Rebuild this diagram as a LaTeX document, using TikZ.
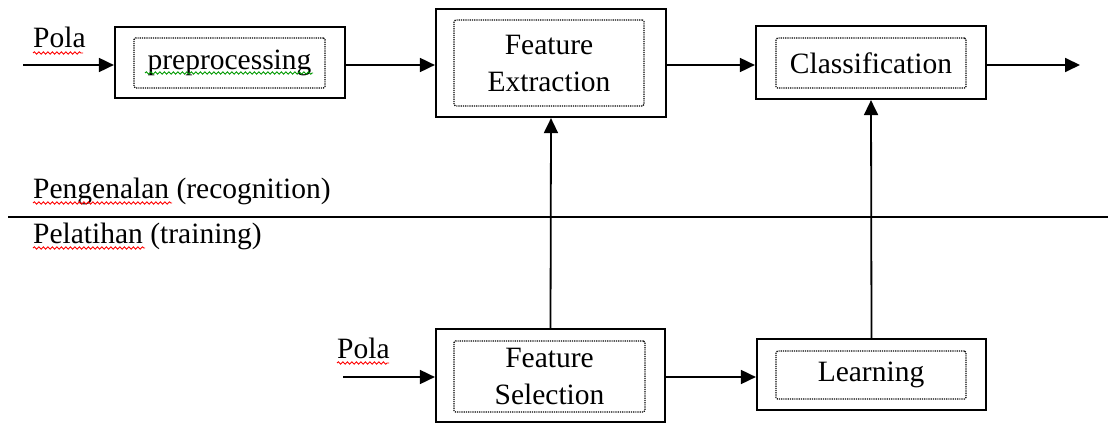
\documentclass[tikz,border=0pt]{standalone}
\usepackage{fontspec}
\setmainfont{Liberation Serif}
\usetikzlibrary{arrows.meta,decorations.pathmorphing}
\begin{document}
\begin{tikzpicture}[x=1pt,y=-1pt,
  outer/.style={draw,line width=2.2pt,rectangle,inner sep=0pt},
  inner/.style={draw,densely dotted,line width=1.2pt,rectangle,rounded corners=1.5pt,inner sep=0pt,align=center,font=\fontsize{29.5}{37}\selectfont},
  lbl/.style={anchor=base west,inner sep=0pt,font=\fontsize{29.5}{32}\selectfont},
  conn/.style={line width=1.8pt,-{Triangle[length=15pt,width=14pt]}},
  squig/.style={decorate,decoration={snake,amplitude=1.2pt,segment length=4.5pt},line width=0.9pt},
]
\useasboundingbox (0,0) rectangle (1108,425);
% boxes
\node[outer,minimum width=230pt,minimum height=71pt] (pre) at (230,62.5) {};
\node[inner,minimum width=191pt,minimum height=50pt] (prei) at (229.5,63) {preprocessing};
\node[outer,minimum width=230pt,minimum height=108pt] (fe) at (551,63) {};
\node[inner,minimum width=190pt,minimum height=86pt] (fei) at (549,63) {Feature\\Extraction};
\node[outer,minimum width=230pt,minimum height=73pt] (cls) at (871,62.5) {};
\node[inner,minimum width=190pt,minimum height=50pt] (clsi) at (871,63) {Classification};
\node[outer,minimum width=229pt,minimum height=93pt] (fs) at (550.5,375.5) {};
\node[inner,minimum width=191pt,minimum height=71pt] (fsi) at (549.5,376.5) {Feature\\Selection};
\node[outer,minimum width=229pt,minimum height=71pt] (learn) at (871.5,374.5) {};
\node[inner,minimum width=190pt,minimum height=48pt] (learni) at (871,375) {Learning};
% labels
\node[lbl] (pola1) at (33,48) {Pola};
\node[lbl] (pola2) at (337,358) {Pola};
\node[lbl] (peng) at (33,198) {Pengenalan (recognition)};
\node[lbl] (pel) at (33,243) {Pelatihan (training)};
% separator
\coordinate (sepL) at (8,216.5);
\coordinate (sepR) at (1108,216.5);
\draw[line width=2pt] (sepL) -- (sepR);
% connectors
\coordinate (in1) at (23,65);
\coordinate (in2) at (343,377);
\coordinate (out) at (1080,65);
\draw[conn] (in1) -- (in1 -| pre.west);
\draw[conn] (pre.east |- in1) -- (in1 -| fe.west);
\draw[conn] (fe.east |- in1) -- (in1 -| cls.west);
\draw[conn] (cls.east |- in1) -- (out);
\draw[conn] (in2) -- (in2 -| fs.west);
\draw[conn] (fs.east |- in2) -- (in2 -| learn.west);
\draw[conn] (fs.north) -- (fe.south);
\draw[conn] (learn.north) -- (cls.south);
% spell-check underlines
\draw[squig,red] (33,53) -- (83,53);
\draw[squig,red] (337,363) -- (389,363);
\draw[squig,red] (33,203) -- (172,203);
\draw[squig,red] (33,248) -- (145,248);
\draw[squig,green!60!black] (145,73) -- (313,73);
\end{tikzpicture}
\end{document}
